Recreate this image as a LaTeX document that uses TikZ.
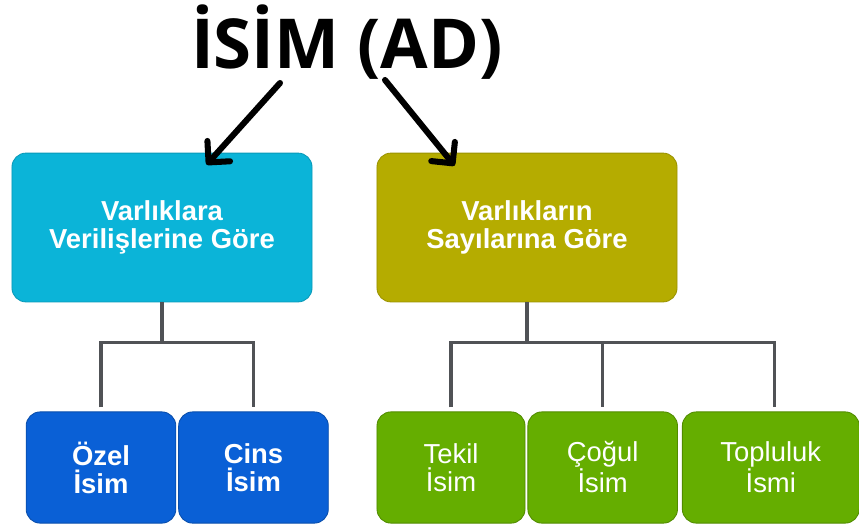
\documentclass[tikz,border=0pt]{standalone}
\usepackage{fontspec}
\setsansfont{Liberation Sans}
\newfontfamily\titlefont{Open Sans}
\usepackage{tikz}
\usetikzlibrary{%
  shapes, arrows.meta, calc, positioning
}
\usepackage{xcolor}
\definecolor{varlcyan}{RGB}{11,180,216}
\definecolor{sayiolive}{RGB}{181,172,0}
\definecolor{ozelblue}{RGB}{10,96,214}
\definecolor{tekilgreen}{RGB}{101,174,0}
\definecolor{treegray}{RGB}{80,82,86}
\tikzstyle{catbox} = [%
  rectangle,
  rounded corners=0.35cm,
  minimum width=7.5cm,
  minimum height=3.72cm,
  align=center,
  text centered,
  inner sep=2pt,
  text=white,
  font=\sffamily\bfseries\fontsize{19.5}{20}\selectfont
]
\tikzstyle{kindbox} = [%
  rectangle,
  rounded corners=0.35cm,
  minimum width=3.74cm,
  minimum height=2.78cm,
  align=center,
  text centered,
  inner sep=2pt,
  text=white,
  font=\sffamily\fontsize{19.5}{20}\selectfont
]

\begin{document}
\begin{tikzpicture}[%
  x=0.025cm, y=-0.025cm,
  arr/.style={%
    line width=4.3pt,
    line cap=round,
    -{Straight Barb[length=3.8mm,width=7.6mm,line cap=round,line join=round]}
  },
  tline/.style={draw=treegray,line width=2.4pt}
]
  \useasboundingbox (0,0) rectangle (859,526);

  % Title
  \node[anchor=base,inner sep=0pt,font=\titlefont\bfseries\fontsize{49}{52}\selectfont] (isim) at (347,68) {İSİM (AD)};

  % Nodes
  \node[catbox,fill=varlcyan,draw=varlcyan!85!black,line width=0.6pt] (varl) at (162,227.5) {Varlıklara\\Verilişlerine Göre};
  \node[catbox,fill=sayiolive,draw=sayiolive!85!black,line width=0.6pt] (sayi) at (527,227.5) {Varlıkların\\Sayılarına Göre};

  \node[kindbox,fill=ozelblue,draw=ozelblue!80!black,line width=0.6pt,font=\sffamily\bfseries\fontsize{19.5}{20}\selectfont] (ozel) at (101,467.5) {Özel\\İsim};
  \node[kindbox,fill=ozelblue,draw=ozelblue!80!black,line width=0.6pt,font=\sffamily\bfseries\fontsize{19.5}{20}\selectfont,right=0.05cm of ozel] (cins) {Cins\\İsim};

  \node[kindbox,fill=tekilgreen,draw=tekilgreen!80!black,line width=0.6pt,minimum width=3.7cm] (tekil) at (451,467.5) {Tekil\\İsim};
  \node[kindbox,fill=tekilgreen,draw=tekilgreen!80!black,line width=0.6pt,right=0.05cm of tekil] (cogul) {Çoğul\\İsim};
  \node[kindbox,fill=tekilgreen,draw=tekilgreen!80!black,line width=0.6pt,minimum width=4.42cm,right=0.1cm of cogul] (toplu) {Topluluk\\İsmi};

  % Title arrows
  \coordinate (t1) at (280,83);
  \coordinate (t2) at (385,80);
  \draw[arr] (t1) -- ([shift={(195,12)}]varl.north west);
  \draw[arr] (t2) -- ([shift={(78,13)}]sayi.north west);

  % Tree edges
  \draw[tline] (varl.south) -- ++(0,40) coordinate (lj);
  \draw[tline] ([shift={(0,-4)}]ozel.north) |- (lj) -| ([shift={(0,-4)}]cins.north);

  \draw[tline] (sayi.south) -- ++(0,40) coordinate (rj);
  \draw[tline] ([shift={(0,-4)}]tekil.north) |- (rj) -| ([shift={(4,-4)}]toplu.north);
  \draw[tline] (rj -| cogul.north) -- ([shift={(0,-4)}]cogul.north);

\end{tikzpicture}
\end{document}
